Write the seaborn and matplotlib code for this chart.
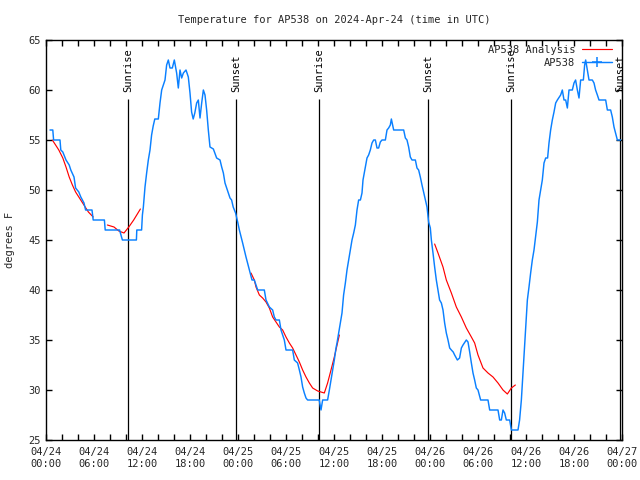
import matplotlib
matplotlib.use("Agg")
import matplotlib.pyplot as plt
import numpy as np
import pandas as pd
import seaborn as sns
from matplotlib.lines import Line2D
from matplotlib.ticker import MultipleLocator

title = "Temperature for AP538 on 2024-Apr-24 (time in UTC)"
y_label = "degrees F"
series_names = ["AP538 Analysis", "AP538"]

# Observed temperature (hours since 04/24 00:00 UTC, deg F)
obs_hours = [0.50, 0.85, 0.95, 1.75, 1.85, 2.10, 2.50, 2.90, 3.10, 3.50, 3.70, 4.10, 4.35, 4.75,
             4.95, 5.75, 5.90, 7.30, 7.40, 9.20, 9.30, 9.55, 11.30, 11.35, 11.95, 12.05, 12.17,
             12.375, 12.58, 12.79, 13.00, 13.20, 13.40, 13.60, 14.04, 14.25, 14.46, 14.875, 15.08,
             15.29, 15.50, 15.79, 16.04, 16.33, 16.54, 16.75, 16.96, 17.17, 17.50, 17.79, 18.00,
             18.20, 18.40, 18.60, 18.83, 19.04, 19.25, 19.46, 19.67, 19.875, 20.08, 20.29, 20.50,
             20.92, 21.33, 21.75, 21.96, 22.17, 22.375, 22.58, 22.79, 23.00, 23.20, 23.40, 23.70,
             23.96, 24.17, 24.58, 25.00, 25.42, 25.75, 26.04, 26.25, 26.46, 27.29, 27.50, 27.92,
             28.33, 28.54, 28.75, 29.17, 29.375, 29.79, 30.00, 30.83, 31.04, 31.45, 31.67, 31.875,
             32.08, 32.29, 32.50, 32.70, 33.96, 34.15, 34.375, 34.58, 35.20, 35.42, 35.625, 35.83,
             36.04, 36.25, 36.375, 36.58, 36.79, 37.00, 37.20, 37.42, 37.625, 37.83, 38.04, 38.25,
             38.46, 38.67, 38.875, 39.08, 39.30, 39.50, 39.625, 39.79, 39.92, 40.125, 40.33, 40.54,
             40.75, 40.96, 41.17, 41.375, 41.58, 41.79, 42.00, 42.42, 42.625, 42.83, 43.04, 43.17,
             43.33, 43.46, 44.71, 44.92, 45.125, 45.33, 45.54, 45.75, 46.17, 46.375, 46.58, 46.79,
             47.00, 47.20, 47.42, 47.625, 47.83, 48.04, 48.17, 48.375, 48.58, 48.79, 49.00, 49.20,
             49.42, 49.625, 49.83, 50.04, 50.25, 50.46, 50.67, 50.90, 51.08, 51.42, 51.70, 51.92,
             52.125, 52.54, 52.75, 52.96, 53.17, 53.375, 53.58, 53.79, 54.00, 54.33, 55.25, 55.46,
             56.50, 56.71, 56.92, 57.125, 57.33, 57.54, 57.96, 58.17, 59.00, 59.20, 59.42, 59.625,
             59.83, 60.04, 60.17, 60.375, 60.58, 60.79, 61.00, 61.20, 61.42, 61.625, 61.83, 62.04,
             62.25, 62.46, 62.70, 62.875, 63.08, 63.29, 63.50, 63.71, 63.92, 64.33, 64.54, 64.75,
             64.96, 65.17, 65.375, 65.79, 66.00, 66.20, 66.42, 66.625, 66.83, 67.17, 67.33, 67.46,
             67.67, 67.875, 68.29, 68.50, 68.70, 68.92, 69.125, 69.96, 70.17, 70.58, 70.79, 71.00,
             71.20, 71.42, 71.83]
obs_temps = [56.0, 56.0, 55.0, 55.0, 54.0, 53.8, 53.0, 52.5, 52.0, 51.3, 50.2, 49.8, 49.3, 48.7,
             48.0, 48.0, 47.0, 47.0, 46.0, 46.0, 45.7, 45.0, 45.0, 46.0, 46.0, 47.5, 48.3,
             50.3, 51.7, 53.0, 54.0, 55.5, 56.4, 57.1, 57.1, 58.7, 60.0, 61.0, 62.5,
             63.0, 62.2, 62.2, 63.0, 61.7, 60.2, 62.0, 61.2, 61.7, 62.0, 61.3, 59.7,
             57.8, 57.1, 57.7, 58.7, 59.0, 57.2, 58.7, 60.0, 59.5, 58.0, 56.0, 54.3,
             54.1, 53.2, 53.0, 52.3, 51.7, 50.7, 50.2, 49.7, 49.2, 49.0, 48.3, 47.7,
             46.8, 46.0, 44.7, 43.3, 42.0, 41.0, 41.0, 40.5, 40.0, 40.0, 39.0, 38.3,
             38.0, 37.3, 37.0, 37.0, 36.0, 35.0, 34.0, 34.0, 33.0, 32.7, 32.0, 31.3,
             30.3, 29.7, 29.2, 29.0, 29.0, 29.0, 28.0, 29.0, 29.0, 30.0, 31.0, 32.0,
             33.0, 34.2, 34.7, 35.7, 36.7, 37.7, 39.5, 40.7, 42.0, 43.0, 44.0, 45.0,
             45.7, 46.5, 48.0, 49.0, 49.0, 49.7, 51.0, 51.7, 52.3, 53.2, 53.5, 54.0,
             54.7, 55.0, 55.0, 54.2, 54.2, 54.8, 55.0, 55.0, 56.0, 56.2, 56.5, 57.1,
             56.5, 56.0, 56.0, 55.2, 55.0, 54.3, 53.3, 53.0, 53.0, 52.2, 52.0, 51.3,
             50.5, 49.8, 49.0, 48.3, 46.8, 46.2, 45.0, 43.7, 42.3, 41.0, 40.0, 39.0,
             38.7, 38.0, 36.7, 35.7, 35.0, 34.2, 34.0, 33.8, 33.5, 33.0, 33.2, 34.2,
             34.5, 35.0, 34.8, 33.8, 32.7, 31.7, 31.0, 30.2, 30.0, 29.0, 29.0, 28.0,
             28.0, 27.0, 27.0, 28.0, 27.7, 27.0, 27.0, 26.0, 26.0, 27.0, 29.0, 31.7,
             34.3, 37.0, 39.0, 40.3, 41.7, 43.0, 44.0, 45.3, 46.8, 49.0, 50.0, 51.0,
             52.7, 53.2, 53.2, 54.7, 56.0, 57.0, 57.8, 58.7, 59.0, 59.5, 60.0, 59.0,
             59.0, 58.2, 60.0, 60.0, 60.7, 61.0, 60.0, 59.2, 61.0, 61.0, 62.5, 63.0,
             62.0, 61.0, 61.0, 60.7, 60.0, 59.5, 59.0, 59.0, 58.0, 58.0, 57.3, 56.3,
             55.7, 55.0, 55.0]

# Analysis temperature, in separate segments
ana_hours = [0.79, 1.20, 1.60, 2.10, 2.50, 2.90, 3.30, 3.70, 4.10, 4.50, 4.90, 5.30, 5.90,
             7.67, 8.50, 9.10, 9.75, 10.35, 10.96, 11.80,
             25.625, 26.04, 26.25, 26.67, 27.08, 27.50, 27.92, 28.33, 28.75, 29.17, 29.58, 30.00,
             30.42, 30.83, 31.25, 31.67, 32.08, 32.50, 32.92, 33.33, 33.96, 34.375, 34.79, 35.20,
             35.625, 36.04, 36.67,
             48.58, 49.00, 49.625, 50.04, 50.67, 51.29, 51.92, 52.54, 53.17, 53.58, 54.00, 54.625,
             55.25, 55.875, 56.50, 57.125, 57.67, 58.17, 58.67]
ana_temps = [55.0, 54.5, 54.0, 53.2, 52.3, 51.3, 50.5, 49.8, 49.3, 48.8, 48.3, 47.8, 47.3,
             46.5, 46.3, 45.9, 45.7, 46.3, 47.0, 48.1,
             41.7, 41.0, 40.3, 39.5, 39.2, 38.8, 38.2, 37.3, 36.8, 36.3, 36.0, 35.3,
             34.7, 34.2, 33.5, 32.8, 32.0, 31.3, 30.7, 30.2, 29.9, 29.8, 29.7, 30.7,
             32.0, 33.3, 35.5,
             44.6, 43.7, 42.3, 41.0, 39.7, 38.3, 37.3, 36.2, 35.3, 34.7, 33.5, 32.2,
             31.7, 31.3, 30.7, 30.0, 29.6, 30.2, 30.5]
ana_segment = [1] * 13 + [2] * 7 + [3] * 27 + [4] * 19

event_hours = [10.29, 23.79, 34.16, 47.79, 58.16, 71.80]
event_labels = ["Sunrise", "Sunset", "Sunrise", "Sunset", "Sunrise", "Sunset"]

xtick_hours = list(range(0, 73, 6))
xtick_labels = ["04/24\n00:00", "04/24\n06:00", "04/24\n12:00", "04/24\n18:00",
                "04/25\n00:00", "04/25\n06:00", "04/25\n12:00", "04/25\n18:00",
                "04/26\n00:00", "04/26\n06:00", "04/26\n12:00", "04/26\n18:00",
                "04/27\n00:00"]
ytick_values = [25, 30, 35, 40, 45, 50, 55, 60, 65]

obs_df = pd.DataFrame({"hour": obs_hours, "temp": obs_temps})
ana_df = pd.DataFrame({"hour": ana_hours, "temp": ana_temps, "segment": ana_segment})

sns.set_style("white")
plt.rcParams["font.family"] = ["DejaVu Sans Mono", "DejaVu Sans"]
plt.rcParams["font.size"] = 7.5

RED = "#ff0000"
BLUE = "#0a80ff"

fig = plt.figure(figsize=(6.4, 4.8), dpi=100)
ax = fig.add_axes([46 / 640, 40 / 480, 576 / 640, 400 / 480])

sns.lineplot(data=ana_df, x="hour", y="temp", units="segment", estimator=None,
             color=RED, linewidth=0.85, ax=ax, legend=False, zorder=3)
sns.lineplot(data=obs_df, x="hour", y="temp", estimator=None, sort=False,
             color=BLUE, linewidth=1.05, ax=ax, legend=False, zorder=4)

line_top = 59.1
ax.vlines(event_hours, ytick_values[0], line_top, color="black", linewidth=0.9, zorder=2)
for h, lab in zip(event_hours, event_labels):
    ax.text(h, line_top + 0.7, lab, rotation=90, ha="center", va="bottom",
            fontsize=7.5, color="black")

ax.set_xlim(xtick_hours[0], xtick_hours[-1])
ax.set_ylim(ytick_values[0], ytick_values[-1])
ax.set_xticks(xtick_hours)
ax.set_xticklabels(xtick_labels)
ax.set_yticks(ytick_values)
ax.xaxis.set_minor_locator(MultipleLocator(2))
ax.tick_params(which="both", direction="in", length=4, width=1, color="black",
               top=True, right=True, bottom=True, left=True)
ax.tick_params(axis="x", which="major", pad=5, labelsize=7.5)
ax.tick_params(axis="y", which="major", pad=4, labelsize=7.5)
for s in ax.spines.values():
    s.set_visible(True)
    s.set_color("black")
    s.set_linewidth(1.0)

ax.set_xlabel("")
ax.set_ylabel(y_label, fontsize=7.5)
ax.yaxis.set_label_coords((15 - 46) / 576, 0.5)
ax.text(0.5, 1 + 20 / 400, title, transform=ax.transAxes, ha="center", va="center",
        fontsize=7.5)

handles = [Line2D([], [], color=RED, linewidth=0.85),
           Line2D([], [], color=BLUE, linewidth=1.05, marker="+", markersize=7,
                  markeredgewidth=1.1)]
ax.legend(handles, series_names, loc="upper right",
          bbox_to_anchor=((612 - 46) / 576, (440 - 45) / 400),
          frameon=False, markerfirst=False, handlelength=2.9, handletextpad=0.6,
          labelspacing=0.3, borderpad=0, borderaxespad=0, fontsize=7.5)

fig.savefig("out.png", dpi=100)
